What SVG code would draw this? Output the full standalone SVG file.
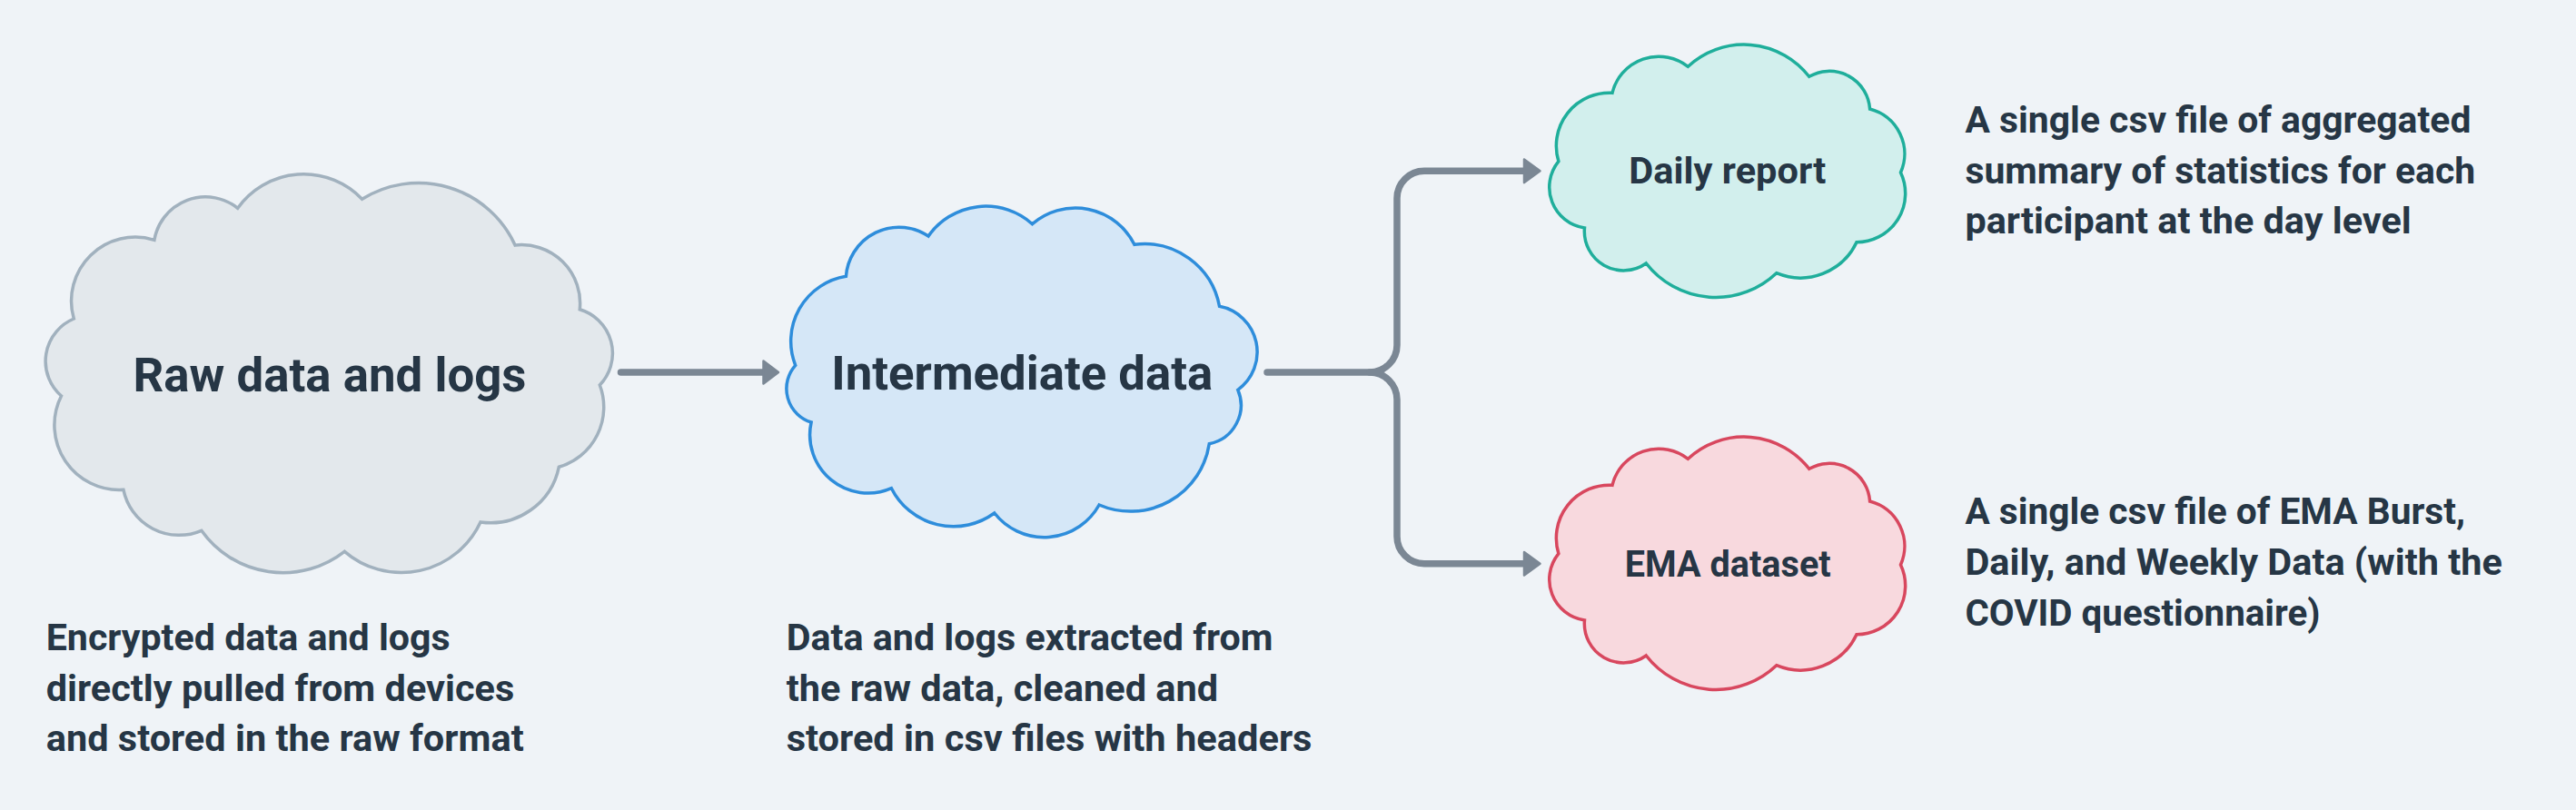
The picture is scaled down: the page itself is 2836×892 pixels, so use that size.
<svg xmlns="http://www.w3.org/2000/svg" width="2836" height="892" viewBox="0 0 2836 892">
<defs>
<style>
.bg{fill:#eff3f7}
.cloud{stroke-width:3.5;stroke-linejoin:miter}
.raw{fill:#e3e8ec;stroke:#a1b1be}
.mid{fill:#d5e7f7;stroke:#2e8ddb}
.daily{fill:#d2efed;stroke:#1fae9b}
.ema{fill:#f8d9de;stroke:#d8475e}
.lbl{font-family:Roboto,"Liberation Sans",sans-serif;font-weight:700;fill:#263645;text-anchor:middle}
.desc{font-family:Roboto,"Liberation Sans",sans-serif;font-weight:700;font-size:40px;fill:#263645}
.conn{fill:none;stroke:#7b8794;stroke-width:7.5;stroke-linecap:round;stroke-linejoin:round}
.head{fill:#7b8794;stroke:#7b8794;stroke-width:2.5;stroke-linejoin:round}
</style>
</defs>
<rect class="bg" x="0" y="0" width="2836" height="892"/>

<g id="connectors">
<path class="conn" d="M683.5,410 H840"/>
<polygon class="head" points="840.5,397.5 857,410 840.5,422.5"/>
<path class="conn" d="M1395,410 H1508 A30,30 0 0 0 1538,380 V218.3 A30,30 0 0 1 1568,188.3 H1678"/>
<polygon class="head" points="1678,175.5 1695.5,188.3 1678,201.1"/>
<path class="conn" d="M1508,410 A30,30 0 0 1 1538,440 V590.7 A30,30 0 0 0 1568,620.7 H1678"/>
<polygon class="head" points="1678,607.9 1695.5,620.7 1678,633.5"/>
</g>

<g id="raw">
<path class="cloud raw" d="M261.7,229.3 A89,89 0 0 1 398.6,219.3 A117,117 0 0 1 567.1,270 A64.5,64.5 0 0 1 638.3,340.7 A50.4,50.4 0 0 1 660.3,424 A68.7,68.7 0 0 1 615.3,514.3 A77,77 0 0 1 529,575 A96,96 0 0 1 379.3,607.3 A110,110 0 0 1 221.8,584.3 A62.6,62.6 0 0 1 135.9,539.3 A71.4,71.4 0 0 1 67.5,436 A50.7,50.7 0 0 1 81.3,351 A70.4,70.4 0 0 1 169.9,264.3 A57,57 0 0 1 261.7,229.3 Z"/>
<text class="lbl" x="363" y="431" font-size="51" textLength="433" lengthAdjust="spacingAndGlyphs">Raw data and logs</text>
</g>

<g id="intermediate">
<path class="cloud mid" d="M1022.1,260 A77,77 0 0 1 1136.5,246.7 A72.6,72.6 0 0 1 1248.9,269.3 A84.3,84.3 0 0 1 1342.5,337.3 A51.3,51.3 0 0 1 1362.8,429.3 A43.3,43.3 0 0 1 1331.3,488.7 A87.6,87.6 0 0 1 1210.1,556 A69.4,69.4 0 0 1 1094.8,565 A76.4,76.4 0 0 1 981.4,537.7 A64.2,64.2 0 0 1 893.1,465 A38.7,38.7 0 0 1 875.7,402.3 A72.4,72.4 0 0 1 931.4,304.3 A58.5,58.5 0 0 1 1022.1,260 Z"/>
<text class="lbl" x="1125.3" y="429.3" font-size="51" textLength="420" lengthAdjust="spacingAndGlyphs">Intermediate data</text>
</g>

<g id="daily">
<path class="cloud daily" d="M1858.4,73.3 A90.6,90.6 0 0 1 1991.7,84.3 A44.7,44.7 0 0 1 2058.6,120 A51,51 0 0 1 2092.5,190 A53.7,53.7 0 0 1 2044,266.7 A68.4,68.4 0 0 1 1955.8,300.7 A97,97 0 0 1 1812.3,290 A43.1,43.1 0 0 1 1744.5,251 A45.2,45.2 0 0 1 1715.9,177.7 A58.4,58.4 0 0 1 1775,102.3 A52.6,52.6 0 0 1 1858.4,73.3 Z"/>
<text class="lbl" x="1901.8" y="202" font-size="41" textLength="217" lengthAdjust="spacingAndGlyphs">Daily report</text>
</g>

<g id="ema">
<path class="cloud ema" transform="translate(0,432)" d="M1858.4,73.3 A90.6,90.6 0 0 1 1991.7,84.3 A44.7,44.7 0 0 1 2058.6,120 A51,51 0 0 1 2092.5,190 A53.7,53.7 0 0 1 2044,266.7 A68.4,68.4 0 0 1 1955.8,300.7 A97,97 0 0 1 1812.3,290 A43.1,43.1 0 0 1 1744.5,251 A45.2,45.2 0 0 1 1715.9,177.7 A58.4,58.4 0 0 1 1775,102.3 A52.6,52.6 0 0 1 1858.4,73.3 Z"/>
<text class="lbl" x="1902.2" y="635" font-size="41" textLength="227" lengthAdjust="spacingAndGlyphs">EMA dataset</text>
</g>

<g id="raw-desc">
<text class="desc" x="50.7" y="716" textLength="445" lengthAdjust="spacingAndGlyphs">Encrypted data and logs</text>
<text class="desc" x="50.7" y="771.7" textLength="515.6" lengthAdjust="spacingAndGlyphs">directly pulled from devices</text>
<text class="desc" x="50.7" y="827.3" textLength="526" lengthAdjust="spacingAndGlyphs">and stored in the raw format</text>
</g>

<g id="intermediate-desc">
<text class="desc" x="865.7" y="716" textLength="535.7" lengthAdjust="spacingAndGlyphs">Data and logs extracted from</text>
<text class="desc" x="865.7" y="771.7" textLength="475.5" lengthAdjust="spacingAndGlyphs">the raw data, cleaned and</text>
<text class="desc" x="865.7" y="827.3" textLength="578.8" lengthAdjust="spacingAndGlyphs">stored in csv files with headers</text>
</g>

<g id="daily-desc">
<text class="desc" x="2163.4" y="145.7" textLength="557" lengthAdjust="spacingAndGlyphs">A single csv file of aggregated</text>
<text class="desc" x="2163.4" y="201.7" textLength="561.8" lengthAdjust="spacingAndGlyphs">summary of statistics for each</text>
<text class="desc" x="2163.4" y="257.3" textLength="491.4" lengthAdjust="spacingAndGlyphs">participant at the day level</text>
</g>

<g id="ema-desc">
<text class="desc" x="2163.4" y="577.3" textLength="550.6" lengthAdjust="spacingAndGlyphs">A single csv file of EMA Burst,</text>
<text class="desc" x="2163.4" y="633.3" textLength="591.4" lengthAdjust="spacingAndGlyphs">Daily, and Weekly Data (with the</text>
<text class="desc" x="2163.4" y="689" textLength="391" lengthAdjust="spacingAndGlyphs">COVID questionnaire)</text>
</g>
</svg>
